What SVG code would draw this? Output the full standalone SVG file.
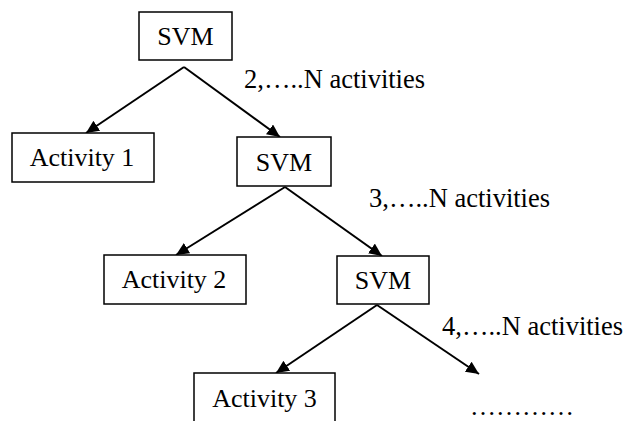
<svg xmlns="http://www.w3.org/2000/svg" width="625" height="421" viewBox="0 0 625 421">
<defs>
<marker id="ah" markerUnits="userSpaceOnUse" markerWidth="14" markerHeight="12" refX="13" refY="6" orient="auto"><path d="M0,0 L13,6 L0,12 z" fill="#000"/></marker>
<style>
.box{fill:#fff;stroke:#000;stroke-width:1.5}
.t{font-family:"Liberation Serif","Times New Roman",serif;font-size:26px;fill:#000}
.l{font-size:26.5px}
.c{text-anchor:middle}
.e{stroke:#000;stroke-width:2;fill:none;marker-end:url(#ah)}
</style>
</defs>
<rect width="625" height="421" fill="#fff"/>
<g id="connectors">
<line class="e" x1="184" y1="67" x2="86" y2="133"/>
<line class="e" x1="184" y1="67" x2="280" y2="137"/>
<line class="e" x1="285" y1="187" x2="176" y2="255"/>
<line class="e" x1="285" y1="187" x2="382" y2="256"/>
<line class="e" x1="377" y1="305" x2="276" y2="373"/>
<line class="e" x1="377" y1="305" x2="479" y2="374"/>
</g>
<g id="svm1"><rect class="box" x="139" y="12" width="93" height="48"/><text class="t c" x="185.5" y="45">SVM</text></g>
<g id="activity1"><rect class="box" x="12" y="133" width="142" height="49"/><text class="t c" x="82" y="166">Activity 1</text></g>
<g id="svm2"><rect class="box" x="237" y="137" width="94" height="49"/><text class="t c" x="284" y="171">SVM</text></g>
<g id="activity2"><rect class="box" x="104" y="255" width="142" height="49"/><text class="t c" x="174" y="288">Activity 2</text></g>
<g id="svm3"><rect class="box" x="337" y="256" width="92" height="48"/><text class="t c" x="383" y="289">SVM</text></g>
<g id="activity3"><rect class="box" x="194" y="373" width="141" height="60"/><text class="t c" x="264.5" y="407">Activity 3</text></g>
<g id="labels">
<text class="t l" x="244" y="88">2,…..N activities</text>
<text class="t l" x="369" y="207">3,…..N activities</text>
<text class="t l" x="442" y="335">4,…..N activities</text>
<text class="t" x="470" y="415">…………</text>
</g>
</svg>
